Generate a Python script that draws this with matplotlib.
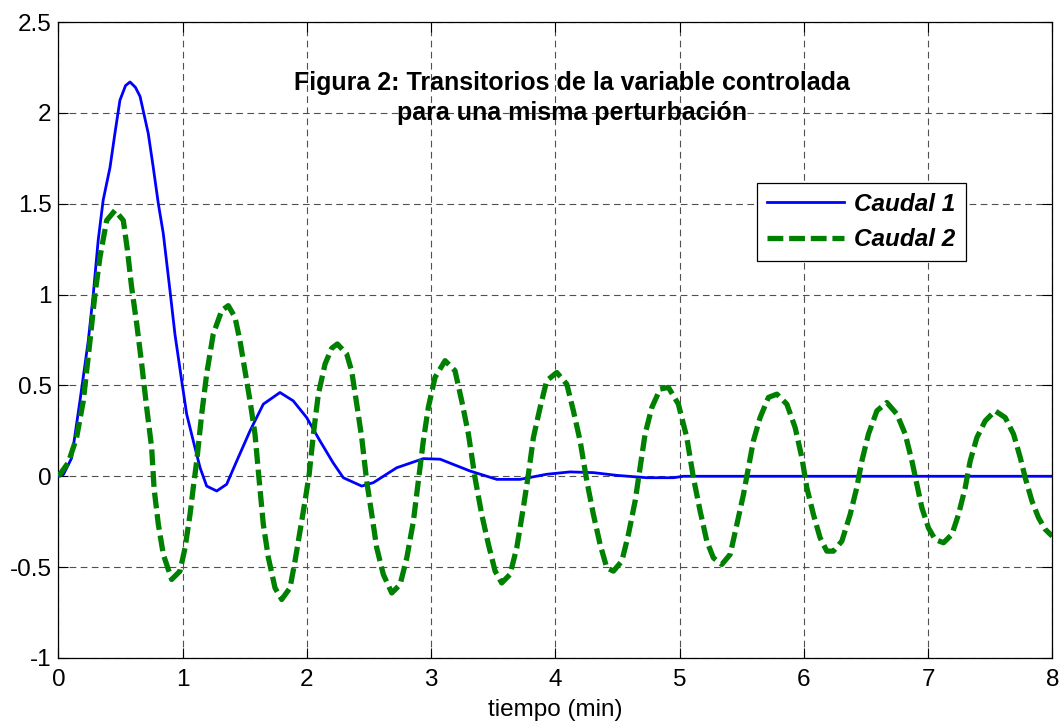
import numpy as np
import matplotlib
matplotlib.use("Agg")
import matplotlib.pyplot as plt

plt.rcParams['font.family'] = ['Liberation Sans', 'DejaVu Sans']

# Caudal 1 (solid blue)
t_caudal1 = [0.0, 0.04, 0.106, 0.173, 0.24, 0.28, 0.32, 0.36, 0.415, 0.455, 0.495, 0.54,
             0.576, 0.62, 0.657, 0.723, 0.763, 0.804, 0.844, 0.898, 0.938, 0.992, 1.032,
             1.085, 1.14, 1.193, 1.274, 1.354, 1.435, 1.542, 1.649, 1.783, 1.89, 1.998,
             2.105, 2.21, 2.293, 2.441, 2.535, 2.723, 2.937, 3.072, 3.313, 3.528, 3.716,
             3.93, 4.118, 4.306, 4.494, 4.736, 4.95, 5.03, 8.0]
y_caudal1 = [0.0, 0.01, 0.10, 0.415, 0.746, 1.0, 1.30, 1.52, 1.70, 1.89, 2.07, 2.15,
             2.17, 2.14, 2.09, 1.886, 1.70, 1.50, 1.335, 1.02, 0.78, 0.526, 0.342,
             0.195, 0.047, -0.054, -0.081, -0.044, 0.084, 0.25, 0.397, 0.461, 0.415, 0.323,
             0.195, 0.075, -0.008, -0.054, -0.035, 0.047, 0.097, 0.094, 0.029, -0.017, -0.017,
             0.011, 0.024, 0.02, 0.005, -0.008, -0.008, 0.0, 0.0]

# Caudal 2 (dashed green)
t_caudal2 = [0.0, 0.079, 0.146, 0.2, 0.254, 0.294, 0.334, 0.388, 0.455, 0.522, 0.555, 0.589,
             0.63, 0.67, 0.71, 0.75, 0.77, 0.804, 0.844, 0.911, 0.978, 1.019, 1.059, 1.085,
             1.113, 1.153, 1.193, 1.246, 1.314, 1.367, 1.421, 1.461, 1.502, 1.542, 1.582,
             1.61, 1.649, 1.69, 1.743, 1.797, 1.864, 1.904, 1.944, 1.985, 2.018, 2.052,
             2.092, 2.146, 2.2, 2.245, 2.32, 2.36, 2.401, 2.441, 2.481, 2.522, 2.562, 2.615,
             2.683, 2.75, 2.804, 2.857, 2.897, 2.937, 2.977, 3.031, 3.112, 3.192, 3.246,
             3.3, 3.353, 3.407, 3.461, 3.515, 3.568, 3.635, 3.689, 3.742, 3.783, 3.823,
             3.877, 3.93, 4.011, 4.092, 4.145, 4.199, 4.253, 4.306, 4.36, 4.414, 4.467,
             4.535, 4.588, 4.642, 4.682, 4.722, 4.776, 4.843, 4.91, 4.99, 5.058, 5.111,
             5.165, 5.219, 5.272, 5.34, 5.407, 5.461, 5.514, 5.554, 5.594, 5.648, 5.715,
             5.783, 5.863, 5.93, 5.984, 6.024, 6.077, 6.131, 6.185, 6.238, 6.306, 6.373,
             6.426, 6.467, 6.52, 6.588, 6.668, 6.749, 6.816, 6.87, 6.91, 6.95, 7.003,
             7.057, 7.124, 7.192, 7.245, 7.299, 7.339, 7.393, 7.46, 7.54, 7.621, 7.688,
             7.742, 7.782, 7.836, 7.889, 7.943, 8.0]
y_caudal2 = [0.0, 0.075, 0.213, 0.415, 0.746, 1.004, 1.206, 1.408, 1.463, 1.408, 1.245, 1.04,
             0.838, 0.618, 0.378, 0.158, -0.07, -0.265, -0.43, -0.568, -0.522, -0.394, -0.21, -0.063,
             0.084, 0.342, 0.563, 0.783, 0.912, 0.939, 0.875, 0.746, 0.58, 0.415, 0.232,
             0.02, -0.265, -0.449, -0.614, -0.678, -0.614, -0.467, -0.302, -0.136, 0.01, 0.232,
             0.452, 0.618, 0.705, 0.728, 0.673, 0.58, 0.397, 0.213, -0.026, -0.21, -0.394, -0.54,
             -0.642, -0.596, -0.449, -0.247, -0.026, 0.195, 0.378, 0.544, 0.636, 0.581, 0.415,
             0.232, -0.008, -0.21, -0.375, -0.522, -0.587, -0.54, -0.394, -0.173, 0.011, 0.213,
             0.378, 0.526, 0.571, 0.507, 0.36, 0.195, -0.026, -0.21, -0.375, -0.504, -0.522,
             -0.467, -0.32, -0.136, 0.047, 0.232, 0.378, 0.48, 0.489, 0.397, 0.213, -0.008,
             -0.191, -0.357, -0.449, -0.485, -0.43, -0.265, -0.1, 0.047, 0.195, 0.323, 0.434,
             0.452, 0.397, 0.268, 0.103, -0.063, -0.21, -0.339, -0.412, -0.412, -0.357, -0.21,
             -0.063, 0.084, 0.232, 0.36, 0.406, 0.342, 0.232, 0.084, -0.044, -0.173, -0.284,
             -0.348, -0.366, -0.32, -0.21, -0.063, 0.084, 0.213, 0.305, 0.36, 0.323, 0.232,
             0.103, -0.008, -0.136, -0.228, -0.292, -0.33]

x_ticks = [0, 1, 2, 3, 4, 5, 6, 7, 8]
y_ticks = [-1, -0.5, 0, 0.5, 1, 1.5, 2, 2.5]
y_ticklabels = ['-1', '-0.5', '0', '0.5', '1', '1.5', '2', '2.5']

fig = plt.figure(figsize=(10.61, 7.24), dpi=100)
ax = fig.add_axes([0.0551, 0.0912, 0.9367, 0.8784])

ax.plot(t_caudal1, y_caudal1, color='#0000ff', lw=2.0, label='Caudal 1', zorder=3)
ax.plot(t_caudal2, y_caudal2, color='#008000', lw=3.8, dashes=(3.0, 1.1),
        label='Caudal 2', zorder=4)

ax.set_xlim(0, 8)
ax.set_ylim(-1, 2.5)
ax.set_xticks(x_ticks)
ax.set_yticks(y_ticks)
ax.set_yticklabels(y_ticklabels)
ax.tick_params(direction='in', length=7, width=0.8, top=True, right=True,
               labelsize=17.5, colors='black')
ax.tick_params(axis='x', pad=8)
ax.tick_params(axis='y', pad=5)
for sp in ax.spines.values():
    sp.set_linewidth(0.9)
    sp.set_color('black')

ax.grid(True, color='#505050', lw=0.8, linestyle=(0, (6, 4)), zorder=1)
ax.set_axisbelow(True)

ax.set_xlabel('tiempo (min)', fontsize=17.5, labelpad=6)

ax.text(4.13, 2.08, 'Figura 2: Transitorios de la variable controlada\npara una misma perturbación',
        ha='center', va='center', multialignment='center', fontsize=18,
        fontweight='bold', linespacing=1.3, zorder=5)

leg = ax.legend(loc='upper left', bbox_to_anchor=(0.7026, 0.7473), borderaxespad=0,
                fancybox=False, edgecolor='black', framealpha=1,
                prop={'weight': 'bold', 'style': 'italic', 'size': 17.5},
                handlelength=3.15, handletextpad=0.45, borderpad=0.42, labelspacing=0.5)
leg.get_frame().set_linewidth(0.9)

fig.savefig('out.png', dpi=100)
